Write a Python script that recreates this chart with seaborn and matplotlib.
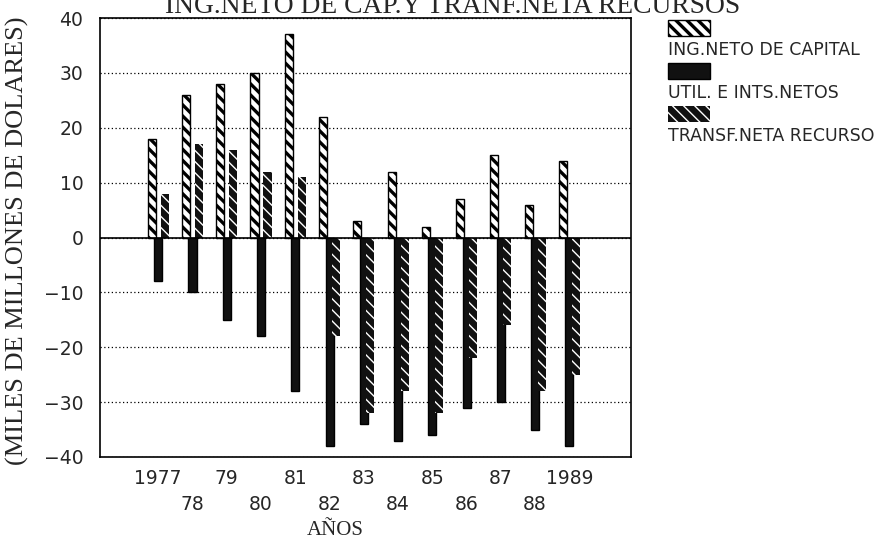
import numpy as np
import pandas as pd
import matplotlib
matplotlib.use('Agg')
import matplotlib.pyplot as plt
from matplotlib.patches import Rectangle
import seaborn as sns

# data (miles de millones de dolares)
years = ['1977', '78', '79', '80', '81', '82', '83', '84', '85', '86', '87', '88', '1989']
capital = [18, 26, 28, 30, 37, 22, 3, 12, 2, 7, 15, 6, 14]
util = [-8, -10, -15, -18, -28, -38, -34, -37, -36, -31, -30, -35, -38]
transf = [8, 17, 16, 12, 11, -18, -32, -28, -32, -22, -16, -28, -25]
series = ['ING.NETO DE CAPITAL', 'UTIL. E INTS.NETOS', 'TRANSF.NETA RECURSO']

sns.set_style('white')
plt.rcParams['font.family'] = ['DejaVu Sans']
plt.rcParams['hatch.linewidth'] = 2.4

df = pd.DataFrame({'year': years, series[0]: capital, series[1]: util, series[2]: transf})
long = df.melt(id_vars='year', var_name='serie', value_name='valor')

W, H = 878, 543
fig = plt.figure(figsize=(W / 100, H / 100), dpi=100)
ax = fig.add_axes([100 / W, 1 - 457 / H, 531 / W, 439 / H])

sns.barplot(data=long, x='year', y='valor', hue='serie', order=years, hue_order=series,
            palette=['white', '#111111', '#111111'], width=0.57, dodge=True,
            saturation=1, legend=False, ax=ax)

# styles: striped / solid / dark with thin white stripes
styles = [dict(fc='white', ec='black', hatch='\\\\\\', lw=1.0, hlw=2.4),
          dict(fc='#111111', ec='black', hatch=None, lw=1.0, hlw=2.4),
          dict(fc='#111111', ec='white', hatch='\\\\\\', lw=0.0, hlw=1.0)]


def style_patch(p, st):
    p.set_facecolor(st['fc'])
    p.set_edgecolor(st['ec'])
    p.set_linewidth(st['lw'])
    if st['hatch']:
        p.set_hatch(st['hatch'])
        if hasattr(p, 'set_hatch_linewidth'):
            p.set_hatch_linewidth(st['hlw'])


for cont, st in zip(ax.containers, styles):
    for bar in cont:
        c = bar.get_x() + bar.get_width() / 2
        bar.set_width(0.235)
        bar.set_x(c - 0.235 / 2)
        style_patch(bar, st)

ax.set_xlim(-1.7, 13.8)
ax.set_ylim(-40, 40)
ax.set_yticks(np.arange(-40, 41, 10))
ax.set_axisbelow(True)
ax.yaxis.grid(True, linestyle=(0, (1, 2)), color='black', linewidth=0.9)
ax.axhline(0, color='black', linewidth=1.2, zorder=1)

for s in ax.spines.values():
    s.set_visible(True)
    s.set_color('black')
    s.set_linewidth(1.2)

xt_labels = [y if i % 2 == 0 else '\n' + y for i, y in enumerate(years)]
ax.set_xticks(np.arange(len(years)), xt_labels)
ax.set_xticks(np.arange(len(years)) + 0.4, minor=True)
ax.tick_params(axis='x', which='major', length=0, pad=9, labelsize=13.5)
ax.tick_params(axis='x', which='minor', length=5, width=1, direction='out', color='black')
ax.tick_params(axis='y', length=7, width=1, direction='out', pad=5, labelsize=13.5, color='black')
for t in ax.get_xticklabels():
    t.set_linespacing(1.4)

ax.set_ylabel('(MILES DE MILLONES DE DOLARES)', family='Liberation Serif', fontsize=19)
ax.yaxis.set_label_coords(-0.134, 0.492)
ax.set_xlabel('AÑOS', family='Liberation Serif', fontsize=15)
ax.xaxis.set_label_coords(0.443, -0.145)

fig.text(453 / W, 1 - 13 / H, 'ING.NETO DE CAP.Y TRANF.NETA RECURSOS', ha='center', va='baseline',
         family='Liberation Serif', fontsize=19.8)

# legend: swatch above each label
for i, (name, st) in enumerate(zip(series, styles)):
    top = 20 + i * 43
    sw = Rectangle((668 / W, 1 - (top + 16) / H), 42 / W, 16 / H, transform=fig.transFigure)
    style_patch(sw, st)
    fig.add_artist(sw)
    fig.text(668 / W, 1 - (top + 30) / H, name, va='center', ha='left', fontsize=12.5)

fig.savefig('out.png', dpi=100)
